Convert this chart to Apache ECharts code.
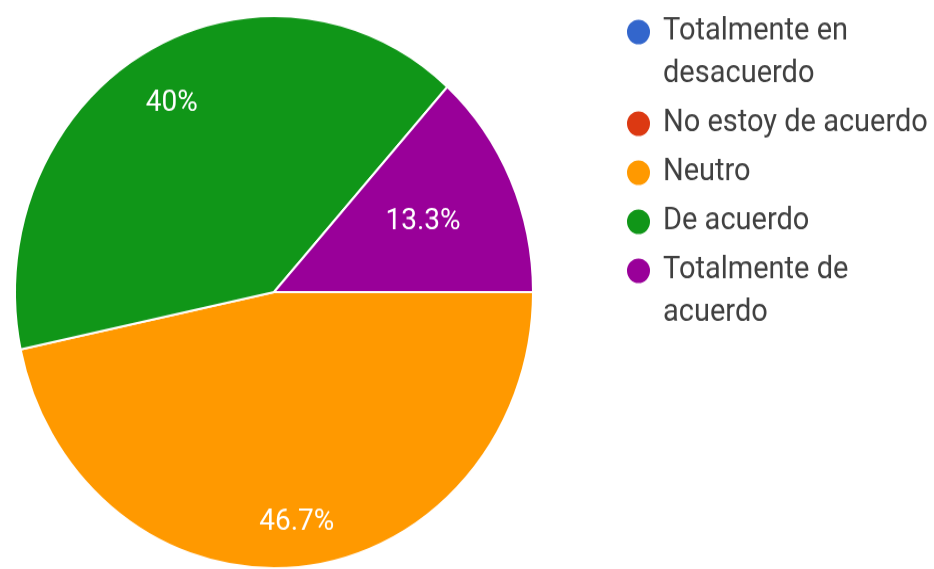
<!DOCTYPE html>
<html>
<head>
<meta charset="utf-8">
<script src="https://cdn.jsdelivr.net/npm/echarts@6/dist/echarts.min.js"></script>
<style>
  html { overflow: hidden; }
  html, body { margin: 0; padding: 0; background: #ffffff; width: 934px; height: 569px; }
  /* the drawing is slightly taller than wide */
  #chart { width: 934px; height: 534px; transform: scaleY(1.066); transform-origin: 0 0; }
</style>
</head>
<body>
<div id="chart"></div>
<script>
// Survey answers (count of respondents per option)
const CATEGORIES = ['Totalmente en desacuerdo', 'No estoy de acuerdo', 'Neutro', 'De acuerdo', 'Totalmente de acuerdo'];
const RESPONSES = [0, 0, 7, 6, 2];
const COLORS = ['#3366cc', '#dc3912', '#ff9900', '#109618', '#990099'];

// pie geometry (px)
const CX = 274, CY = 274, R = 259;
// how far from the centre each percentage label sits, as a fraction of R
const LABEL_RADIUS = [0.5, 0.5, 0.84, 0.79, 0.63];
const LINE_H = 40;

const chart = echarts.init(document.getElementById('chart'), null, { renderer: 'canvas' });

// keep each legend icon level with the first line of its (possibly wrapped) text
const legendData = CATEGORIES.map(function (name, i) {
  let pad = [0, 0, 0, 7];
  if (i === 0) pad = [LINE_H, 0, 0, 7];
  if (i === CATEGORIES.length - 1) pad = [0, 0, -LINE_H, 7];
  return { name: name, textStyle: { padding: pad } };
});

chart.setOption({
  backgroundColor: '#ffffff',
  color: COLORS,
  animation: false,
  legend: {
    orient: 'vertical',
    left: 625,
    top: 30 - 1.5 * LINE_H,
    padding: 0,
    itemGap: 6,
    icon: 'circle',
    itemWidth: 25,
    itemHeight: 25,
    data: legendData,
    formatter: function (name) { return '{n|' + name + '}'; },
    textStyle: {
      fontFamily: 'Roboto',
      fontSize: 29,
      color: '#404040',
      lineHeight: LINE_H,
      width: 270,
      overflow: 'break',
      rich: { n: { fontFamily: 'Roboto', fontSize: 29, color: '#404040', lineHeight: LINE_H } }
    }
  },
  series: [{
    type: 'pie',
    center: [CX, CY],
    radius: R,
    startAngle: 0,
    clockwise: true,
    percentPrecision: 1,
    itemStyle: { borderColor: '#ffffff', borderWidth: 2 },
    label: {
      show: true,
      position: 'inside',
      fontFamily: 'Roboto',
      fontSize: 28,
      color: '#ffffff',
      formatter: function (p) { return p.value ? p.percent + '%' : ''; }
    },
    labelLayout: function (params) {
      const r = params.labelRect;
      const lx = r.x + r.width / 2 - CX;
      const ly = r.y + r.height / 2 - CY;
      const d = Math.sqrt(lx * lx + ly * ly) || 1;
      const f = LABEL_RADIUS[params.dataIndex] * R;
      return { x: CX + lx / d * f, y: CY + ly / d * f, align: 'center', verticalAlign: 'middle' };
    },
    labelLine: { show: false },
    emphasis: { disabled: true },
    data: CATEGORIES.map(function (name, i) { return { name: name, value: RESPONSES[i] }; })
  }]
});
</script>
</body>
</html>
